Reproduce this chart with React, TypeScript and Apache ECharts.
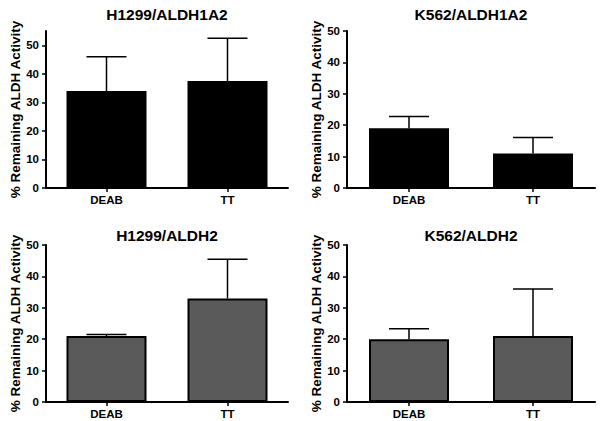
import React, { useEffect, useRef } from "react";
import * as echarts from "echarts";

const categories = ["DEAB", "TT"];
const panelTitles = ["H1299/ALDH1A2", "K562/ALDH1A2", "H1299/ALDH2", "K562/ALDH2"];

const h1299Aldh1a2Mean = [34, 37.5];
const h1299Aldh1a2Err = [12, 15];
const k562Aldh1a2Mean = [19, 11];
const k562Aldh1a2Err = [3.8, 5.1];
const h1299Aldh2Mean = [21, 33];
const h1299Aldh2Err = [0.5, 12.5];
const k562Aldh2Mean = [20, 21];
const k562Aldh2Err = [3.3, 15];

const yMaxes = [55, 50, 50, 50];
const yTicks = [0, 10, 20, 30, 40, 50];
const yAxisName = "% Remaining ALDH Activity";

const means = [h1299Aldh1a2Mean, k562Aldh1a2Mean, h1299Aldh2Mean, k562Aldh2Mean];
const errs = [h1299Aldh1a2Err, k562Aldh1a2Err, h1299Aldh2Err, k562Aldh2Err];

const FONT = "'Liberation Sans', Arial, sans-serif";

const grids = [
  { left: 46, top: 31, width: 242, height: 157 },
  { left: 347, top: 31, width: 248, height: 157 },
  { left: 46, top: 245, width: 242, height: 157 },
  { left: 347, top: 245, width: 248, height: 157 },
];
const barFills = ["#000000", "#000000", "#5a5a5a", "#5a5a5a"];

export default function App() {
  const ref = useRef<HTMLDivElement>(null);
  useEffect(() => {
    if (!ref.current) return;
    const chart = echarts.init(ref.current, undefined, { renderer: "svg" });

    const xAxis = grids.map((_, i) => ({
      type: "category",
      gridIndex: i,
      data: categories,
      boundaryGap: true,
      axisLine: { show: true, lineStyle: { color: "#000", width: 2 } },
      axisTick: { show: true, alignWithLabel: true, length: 4, lineStyle: { color: "#000", width: 1.5 } },
      axisLabel: { color: "#000", fontFamily: FONT, fontWeight: "bold", fontSize: 11.5, margin: 6 },
      splitLine: { show: false },
    }));

    const yAxis = grids.map((_, i) => ({
      type: "value",
      gridIndex: i,
      min: 0,
      max: yMaxes[i],
      interval: 10,
      name: yAxisName,
      nameLocation: "middle",
      nameGap: 23,
      nameTextStyle: { color: "#000", fontFamily: FONT, fontWeight: "bold", fontSize: 13.5 },
      axisLine: { show: true, lineStyle: { color: "#000", width: 2 } },
      axisTick: { show: true, length: 4, customValues: yTicks, lineStyle: { color: "#000", width: 1.5 } },
      axisLabel: { color: "#000", fontFamily: FONT, fontWeight: "bold", fontSize: 11.5, margin: 7, customValues: yTicks },
      splitLine: { show: false },
    }));

    const series: any[] = [];
    grids.forEach((_, i) => {
      series.push({
        type: "bar",
        xAxisIndex: i,
        yAxisIndex: i,
        data: means[i],
        barWidth: 80,
        itemStyle: { color: barFills[i], borderColor: "#000", borderWidth: 2 },
        z: 2,
      });
      series.push({
        type: "custom",
        xAxisIndex: i,
        yAxisIndex: i,
        z: 3,
        data: means[i].map((m, j) => [j, m, m + errs[i][j]]),
        renderItem: (params: any, api: any) => {
          const x = api.value(0);
          const base = api.coord([x, api.value(1)]);
          const top = api.coord([x, api.value(2)]);
          const style = { stroke: "#000", lineWidth: 1.5 };
          return {
            type: "group",
            children: [
              { type: "line", shape: { x1: base[0], y1: base[1], x2: top[0], y2: top[1] }, style },
              { type: "line", shape: { x1: top[0] - 20, y1: top[1], x2: top[0] + 20, y2: top[1] }, style },
            ],
          };
        },
      });
    });

    const titleCenters = [
      [167, 14],
      [471, 14],
      [167, 235.5],
      [471, 235.5],
    ];

    chart.setOption({
      animation: false,
      backgroundColor: "#fff",
      grid: grids.map((g) => ({ ...g, containLabel: false })),
      xAxis,
      yAxis,
      series,
      graphic: panelTitles.map((t, i) => ({
        type: "text",
        x: titleCenters[i][0],
        y: titleCenters[i][1],
        style: {
          text: t,
          fill: "#000",
          font: `bold 15.5px ${FONT}`,
          textAlign: "center",
          textVerticalAlign: "middle",
        },
      })),
    });
    return () => chart.dispose();
  }, []);
  return (
    <div
      ref={ref}
      style={{ position: "absolute", left: 0, top: 0, width: 601, height: 421, background: "#fff" }}
    />
  );
}
